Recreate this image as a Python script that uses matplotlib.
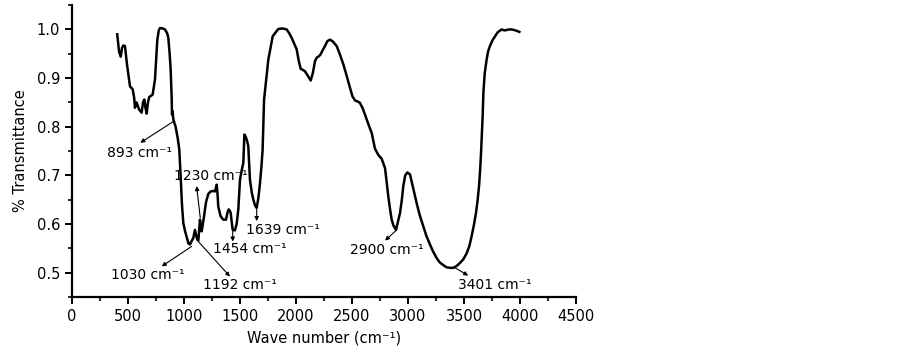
import matplotlib.pyplot as plt
from matplotlib.ticker import MultipleLocator

# FTIR spectrum
wavenumber = [404, 420, 435, 447, 458, 473, 490, 518, 542, 555, 562, 577, 600, 622, 634,
              646, 655, 667, 678, 690, 720, 741, 752, 762, 775, 786, 810, 830, 850, 860,
              872, 881, 890, 893, 898, 905, 925, 945, 958, 970, 982, 994, 1010, 1024, 1040,
              1054, 1068, 1083, 1098, 1110, 1119, 1128, 1143, 1150, 1158, 1168, 1179, 1196,
              1217, 1238, 1260, 1277, 1285, 1292, 1300, 1306, 1327, 1351, 1375, 1390, 1399,
              1410, 1417, 1428, 1435, 1455, 1470, 1485, 1500, 1515, 1530, 1539, 1550, 1562,
              1574, 1589, 1605, 1619, 1635, 1649, 1665, 1679, 1692, 1702, 1715, 1753, 1792,
              1842, 1880, 1917, 1940, 1961, 1985, 2006, 2025, 2042, 2060, 2080, 2105, 2131,
              2150, 2170, 2185, 2205, 2220, 2240, 2259, 2280, 2304, 2330, 2363, 2393, 2423,
              2452, 2482, 2505, 2527, 2550, 2571, 2595, 2616, 2645, 2676, 2705, 2735, 2765,
              2795, 2810, 2824, 2840, 2854, 2870, 2893, 2910, 2929, 2945, 2958, 2975, 2994,
              3018, 3045, 3077, 3105, 3137, 3165, 3196, 3225, 3256, 3280, 3301, 3325, 3345,
              3375, 3405, 3435, 3464, 3495, 3524, 3548, 3568, 3590, 3607, 3622, 3634, 3645,
              3652, 3660, 3667, 3673, 3685, 3702, 3715, 3732, 3755, 3777, 3800, 3836, 3860,
              3881, 3905, 3926, 3960, 3994]
transmittance = [0.99, 0.955, 0.944, 0.962, 0.967, 0.966, 0.93, 0.883, 0.877, 0.86, 0.839,
                 0.85, 0.835, 0.829, 0.85, 0.856, 0.84, 0.827, 0.85, 0.861, 0.866, 0.897,
                 0.94, 0.979, 0.998, 1.003, 1.002, 1.0, 0.992, 0.983, 0.95, 0.918, 0.86,
                 0.825, 0.832, 0.815, 0.80, 0.775, 0.753, 0.70, 0.64, 0.602, 0.585, 0.573,
                 0.56, 0.558, 0.565, 0.571, 0.588, 0.575, 0.568, 0.566, 0.609, 0.59, 0.585,
                 0.60, 0.616, 0.644, 0.662, 0.667, 0.668, 0.667, 0.675, 0.681, 0.66, 0.636,
                 0.616, 0.609, 0.609, 0.625, 0.630, 0.627, 0.623, 0.60, 0.588, 0.587, 0.60,
                 0.630, 0.691, 0.71, 0.726, 0.784, 0.78, 0.772, 0.76, 0.691, 0.665, 0.65,
                 0.638, 0.633, 0.655, 0.685, 0.72, 0.753, 0.856, 0.938, 0.986, 1.001, 1.002,
                 1.0, 0.992, 0.983, 0.97, 0.959, 0.935, 0.919, 0.917, 0.914, 0.905, 0.895,
                 0.91, 0.935, 0.942, 0.945, 0.949, 0.958, 0.966, 0.976, 0.979, 0.975, 0.966,
                 0.948, 0.928, 0.905, 0.88, 0.862, 0.854, 0.852, 0.849, 0.838, 0.825, 0.806,
                 0.787, 0.755, 0.742, 0.734, 0.715, 0.685, 0.657, 0.63, 0.609, 0.597, 0.588,
                 0.605, 0.623, 0.65, 0.678, 0.70, 0.706, 0.702, 0.675, 0.643, 0.618, 0.595,
                 0.575, 0.558, 0.543, 0.530, 0.522, 0.518, 0.514, 0.511, 0.510, 0.51, 0.514,
                 0.52, 0.528, 0.54, 0.555, 0.575, 0.60, 0.623, 0.65, 0.678, 0.715, 0.746,
                 0.79, 0.825, 0.87, 0.91, 0.938, 0.955, 0.966, 0.978, 0.986, 0.994, 1.0,
                 0.998, 0.999, 1.0, 1.0, 0.998, 0.995]

# peak labels: text, point on curve, arrow head, text centre
peak_labels = ["893 cm⁻¹", "1230 cm⁻¹", "1030 cm⁻¹", "1192 cm⁻¹",
               "1454 cm⁻¹", "1639 cm⁻¹", "2900 cm⁻¹", "3401 cm⁻¹"]
peak_xy = [(900, 0.81), (1145, 0.613), (1068, 0.554), (1128, 0.564),
           (1435, 0.595), (1649, 0.630), (2899, 0.588), (3420, 0.51)]
head_xy = [(610, 0.767), (1113, 0.678), (801, 0.513), (1411, 0.492),
           (1435, 0.564), (1649, 0.606), (2795, 0.566), (3538, 0.494)]
text_xy = [(607, 0.747), (1241, 0.698), (679, 0.496), (1500, 0.475),
           (1589, 0.549), (1880, 0.588), (2810, 0.547), (3777, 0.475)]

fig = plt.figure(figsize=(9.02, 3.5), dpi=100)
ax = fig.add_axes([0.0798, 0.1514, 0.5588, 0.834])

ax.plot(wavenumber, transmittance, color='black', linewidth=1.8)

for lab, p, h, t in zip(peak_labels, peak_xy, head_xy, text_xy):
    ax.annotate('', xy=h, xytext=p,
                arrowprops=dict(arrowstyle='-|>', color='black', lw=0.8,
                                mutation_scale=6, shrinkA=0, shrinkB=0))
    ax.text(t[0], t[1], lab, fontsize=10, ha='center', va='center')

ax.set_xlim(0, 4500)
ax.set_ylim(0.45, 1.05)
ax.xaxis.set_major_locator(MultipleLocator(500))
ax.xaxis.set_minor_locator(MultipleLocator(250))
ax.yaxis.set_minor_locator(MultipleLocator(0.05))
ax.set_yticks([0.5, 0.6, 0.7, 0.8, 0.9, 1.0])
ax.set_yticklabels(['0.5', '0.6', '0.7', '0.8', '0.9', '1.0'])

for side in ['top', 'right']:
    ax.spines[side].set_visible(False)
for side in ['left', 'bottom']:
    ax.spines[side].set_linewidth(1.6)

ax.tick_params(which='major', direction='out', length=5, width=1.4, labelsize=10.5)
ax.tick_params(which='minor', direction='out', length=3, width=1.2)

ax.set_xlabel('Wave number (cm⁻¹)', fontsize=10.5, labelpad=5)
ax.set_ylabel('% Transmittance', fontsize=10.5, labelpad=6)

fig.savefig('out.png', dpi=100)
